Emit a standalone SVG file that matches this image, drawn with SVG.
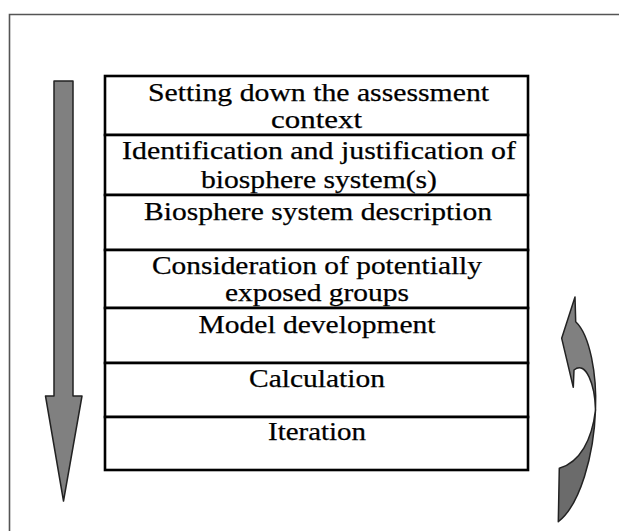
<svg xmlns="http://www.w3.org/2000/svg" width="619" height="531" viewBox="0 0 619 531">
<style>
.row{fill:#fff;stroke:#000;stroke-width:2.6}
.t{font-family:'Liberation Serif','Times New Roman',serif;font-size:25px;fill:#000;stroke:#000;stroke-width:0.25;text-anchor:middle}
.arr{stroke:#222;stroke-width:1.5;stroke-linejoin:round}
</style>
<rect width="619" height="531" fill="#fff"/>
<path d="M9.5,531 V14.5 H619" fill="none" stroke="#555" stroke-width="1.6"/>
<g id="flow-arrow">
<path class="arr" fill="#808080" d="M54,81 H73 V396 H82 L63.5,501 L45.5,396 H54 Z"/>
</g>
<g id="iteration-arrow">
<path class="arr" fill="#808080" d="M575,297 L575.7,321.7 C590,335 597,375 595.5,410 C595,385 586,360 574,370 L573.3,387.3 L561.7,338.3 Z"/>
<path class="arr" fill="#6b6b6b" d="M595.5,410 C594,455 580,505 558.3,521.7 L559.3,468.3 C580,462 592,440 595.5,410 Z"/>
</g>
<g id="step1"><rect class="row" x="105" y="76" width="423" height="59"/>
<text class="t" x="318.5" y="101" textLength="341" lengthAdjust="spacingAndGlyphs">Setting down the assessment</text>
<text class="t" x="316.5" y="128" textLength="91" lengthAdjust="spacingAndGlyphs">context</text></g>
<g id="step2"><rect class="row" x="105" y="135" width="423" height="60"/>
<text class="t" x="319" y="159" textLength="394" lengthAdjust="spacingAndGlyphs">Identification and justification of</text>
<text class="t" x="319" y="188" textLength="236" lengthAdjust="spacingAndGlyphs">biosphere system(s)</text></g>
<g id="step3"><rect class="row" x="105" y="195" width="423" height="55"/>
<text class="t" x="318" y="220" textLength="348" lengthAdjust="spacingAndGlyphs">Biosphere system description</text></g>
<g id="step4"><rect class="row" x="105" y="250" width="423" height="58"/>
<text class="t" x="317" y="274" textLength="330" lengthAdjust="spacingAndGlyphs">Consideration of potentially</text>
<text class="t" x="317" y="301" textLength="184" lengthAdjust="spacingAndGlyphs">exposed groups</text></g>
<g id="step5"><rect class="row" x="105" y="308" width="423" height="55"/>
<text class="t" x="317" y="333" textLength="237" lengthAdjust="spacingAndGlyphs">Model development</text></g>
<g id="step6"><rect class="row" x="105" y="363" width="423" height="54"/>
<text class="t" x="317" y="387" textLength="136" lengthAdjust="spacingAndGlyphs">Calculation</text></g>
<g id="step7"><rect class="row" x="105" y="417" width="423" height="53"/>
<text class="t" x="317" y="440" textLength="98" lengthAdjust="spacingAndGlyphs">Iteration</text></g>
</svg>
